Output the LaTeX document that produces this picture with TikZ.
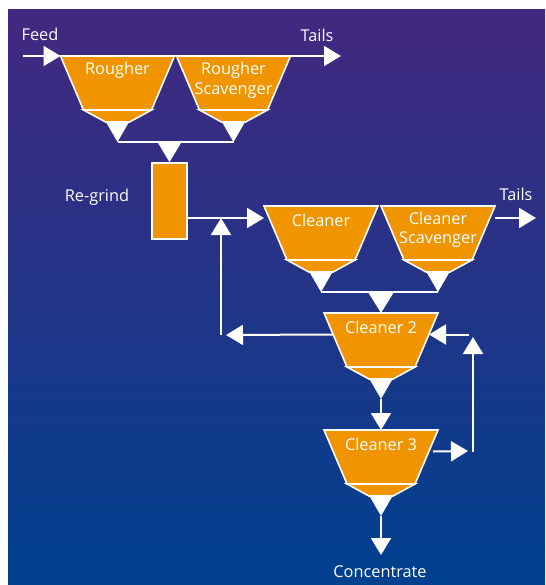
\documentclass[tikz,border=0pt]{standalone}
\usepackage{fontspec}
\setmainfont{Open Sans}
\usetikzlibrary{arrows.meta}
\definecolor{cellorange}{HTML}{F09400}
\definecolor{bgtop}{RGB}{67,40,128}
\definecolor{bgbot}{RGB}{0,65,143}
\tikzset{
  flow/.style={draw=white, line width=2pt, -{Triangle[width=20pt,length=17pt]}},
  wline/.style={draw=white, line width=2pt},
  drop/.style={fill=white},
  lbl/.style={text=white, font=\fontsize{16.3}{19.5}\selectfont, inner sep=0pt, align=center},
  cellbody/.style={fill=cellorange, draw=white, line width=1.6pt, line join=miter},
  cell/.pic={
    \path[cellbody] (-57,0) -- (57,0) -- (34,54) -- (-34,54) -- cycle;
    \path[cellbody] (-34,54) -- (34,54) -- (12,66) -- (-12,66) -- cycle;
    \fill[white] (-12,65.2) -- (12,65.2) -- (0,86) -- cycle;
    \coordinate (-apex) at (0,86);
    \coordinate (-top) at (0,0);
    \coordinate (-nw) at (-57,0);
    \coordinate (-ne) at (57,0);
    \coordinate (-w) at (-48,21.5);
    \coordinate (-e) at (48,21.5);
    \coordinate (-lab) at (0,14.5);
  }
}
\begin{document}
\begin{tikzpicture}[x=1pt,y=-1pt]
\useasboundingbox (0,0) rectangle (545,585);
\fill[white] (0,0) rectangle (545,585);
\shade[top color=bgtop, bottom color=bgbot] (8,10) rectangle (545,585);

% cells
\pic (ro) at (117.5,56) {cell};
\pic (rs) at (233.5,56) {cell};
\pic (cl) at (321,206) {cell};
\pic (cs) at (438,206) {cell};
\pic (c2) at (381,313) {cell};
\pic (c3) at (381,430) {cell};

% labels in cells
\node[lbl] (ro-t) at (ro-lab) {Rougher};
\node[lbl, anchor=north] (rs-t) at ([yshift=8.5pt]rs-lab) {Rougher\\Scavenger};
\node[lbl] (cl-t) at (cl-lab) {Cleaner};
\node[lbl, anchor=north] (cs-t) at ([yshift=9pt]cs-lab) {Cleaner\\Scavenger};
\node[lbl] (c2-t) at (c2-lab) {Cleaner 2};
\node[lbl] (c3-t) at (c3-lab) {Cleaner 3};

% re-grind
\node[fill=cellorange, draw=white, line width=1.6pt, minimum width=35pt, minimum height=76pt, inner sep=0pt] (rg) at (169.5,201) {};
\node[lbl] (rgl) at (97,197) {Re-grind};

% feed / tails
\coordinate (feed) at (23,56);
\node[lbl] (feedl) at (40,34) {Feed};
\draw[flow] (feed) -- (ro-nw);
\draw[wline] (ro-ne) -- (rs-nw);
\coordinate (tails1) at (341,56);
\draw[flow] (rs-ne) -- (tails1);
\node[lbl] (tails1l) at (317,35) {Tails};

% rougher concentrate to regrind
\draw[wline] (ro-apex) -- (rs-apex);
\fill[drop] ([xshift=-12pt]rg.north |- ro-apex) -- ([xshift=12pt]rg.north |- ro-apex) -- (rg.north) -- cycle;

% regrind to cleaner
\coordinate (rgout) at (rg.east |- 0,218);
\coordinate (clin) at (264,218);
\draw[flow] (rgout) -- (clin);

% cleaner tails
\coordinate (cstail) at ([yshift=-12pt]cs-ne);
\coordinate (tails2) at (536,218);
\draw[flow] (cstail) -- (tails2);
\node[lbl] (tails2l) at (516,194) {Tails};

% cleaner concentrate to cleaner 2
\draw[wline] (cl-apex) -- (cs-apex);
\fill[drop] ([xshift=-13pt]c2-top |- cl-apex) -- ([xshift=13pt]c2-top |- cl-apex) -- (c2-top) -- cycle;

% cleaner 2 tails back to cleaner feed
\coordinate (lp) at (221,335);
\draw[flow] (c2-w) -- ([xshift=5pt]lp);
\draw[flow] (lp) -- (lp |- clin);

% cleaner 2 -> cleaner 3
\draw[flow] (c2-apex) -- (c3-top);

% cleaner 3 -> concentrate
\coordinate (conc) at (381,555);
\draw[flow] (c3-apex) -- (conc);
\node[lbl] (concl) at (380,572) {Concentrate};

% cleaner 3 tails back to cleaner 2
\coordinate (rp) at (473,451);
\draw[flow] ([xshift=4pt]c3-e) -- ([xshift=-5pt]rp);
\draw[flow] ([yshift=-1pt]rp) -- (rp |- 0,337);
\draw[flow] ([xshift=-4pt]rp |- c2-e) -- (c2-e);
\end{tikzpicture}
\end{document}
